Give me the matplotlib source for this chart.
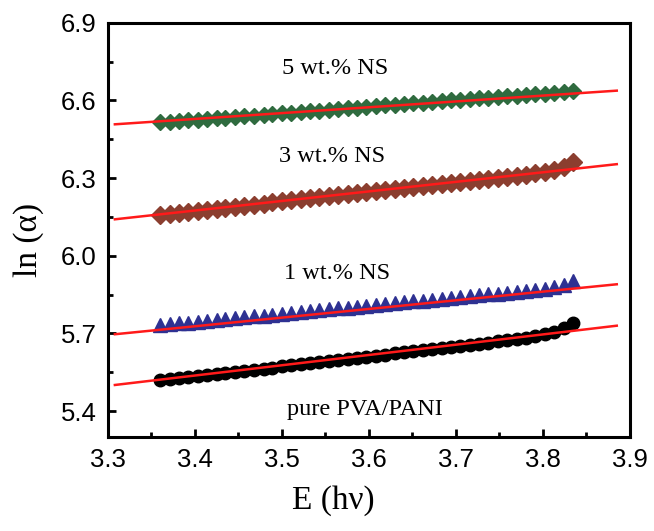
import matplotlib
matplotlib.use('Agg')
from matplotlib import pyplot as plt
from matplotlib.ticker import MultipleLocator

# photon energy (eV)
energy = [3.360, 3.371, 3.382, 3.392, 3.403, 3.414, 3.425, 3.435, 3.446, 3.457,
          3.468, 3.479, 3.489, 3.500, 3.511, 3.522, 3.532, 3.543, 3.554, 3.565,
          3.576, 3.586, 3.597, 3.608, 3.619, 3.630, 3.640, 3.651, 3.662, 3.673,
          3.684, 3.694, 3.705, 3.716, 3.727, 3.737, 3.748, 3.759, 3.770, 3.781,
          3.791, 3.802, 3.813, 3.824, 3.835]

ln_pure = [5.519, 5.523, 5.527, 5.531, 5.535, 5.540, 5.544, 5.548, 5.552, 5.556,
           5.560, 5.564, 5.568, 5.573, 5.577, 5.582, 5.586, 5.590, 5.594, 5.598,
           5.602, 5.606, 5.610, 5.614, 5.618, 5.623, 5.627, 5.631, 5.635, 5.639,
           5.643, 5.647, 5.651, 5.656, 5.660, 5.665, 5.669, 5.673, 5.678, 5.683,
           5.689, 5.697, 5.707, 5.720, 5.739]

ln_1ns = [5.732, 5.735, 5.739, 5.742, 5.746, 5.749, 5.752, 5.756, 5.759, 5.763,
          5.766, 5.769, 5.773, 5.776, 5.780, 5.783, 5.786, 5.790, 5.793, 5.797,
          5.800, 5.803, 5.807, 5.810, 5.814, 5.817, 5.820, 5.824, 5.827, 5.831,
          5.834, 5.837, 5.841, 5.844, 5.848, 5.851, 5.854, 5.858, 5.861, 5.865,
          5.868, 5.873, 5.879, 5.888, 5.904]

ln_3ns = [6.158, 6.162, 6.166, 6.170, 6.174, 6.178, 6.182, 6.186, 6.190, 6.194,
          6.198, 6.202, 6.206, 6.210, 6.214, 6.218, 6.222, 6.226, 6.230, 6.234,
          6.238, 6.242, 6.246, 6.250, 6.254, 6.258, 6.262, 6.266, 6.270, 6.274,
          6.278, 6.282, 6.286, 6.290, 6.294, 6.298, 6.302, 6.306, 6.310, 6.314,
          6.318, 6.323, 6.330, 6.342, 6.362]

ln_5ns = [6.515, 6.518, 6.520, 6.523, 6.526, 6.529, 6.531, 6.534, 6.537, 6.540,
          6.542, 6.545, 6.548, 6.550, 6.553, 6.556, 6.559, 6.561, 6.564, 6.567,
          6.570, 6.572, 6.575, 6.578, 6.581, 6.583, 6.586, 6.589, 6.591, 6.594,
          6.597, 6.600, 6.602, 6.605, 6.608, 6.611, 6.613, 6.616, 6.619, 6.621,
          6.624, 6.627, 6.630, 6.632, 6.635]

# linear fits: end points of each red line
fit_x = [3.308, 3.885]
fit_pure = [5.501, 5.730]
fit_1ns = [5.697, 5.890]
fit_3ns = [6.141, 6.354]
fit_5ns = [6.508, 6.638]

labels = ['pure PVA/PANI', '1 wt.% NS', '3 wt.% NS', '5 wt.% NS']
label_pos = [(3.595, 5.405), (3.564, 5.93), (3.558, 6.385), (3.561, 6.725)]

fig = plt.figure(figsize=(6.54, 5.31), dpi=100)
ax = fig.add_axes([0.165, 0.177, 0.798, 0.780])

ax.plot(energy, ln_pure, 'o', color='black', ms=9, mec='black')
ax.plot(energy, ln_1ns, '^', color='#2E3192', ms=10, mec='#2E3192')
ax.plot(energy, ln_3ns, 'D', color='#8B3E2F', ms=9, mec='#8B3E2F')
ax.plot(energy, ln_5ns, 'D', color='#2F6B3F', ms=8, mec='#2F6B3F')

for fit in [fit_pure, fit_1ns, fit_3ns, fit_5ns]:
    ax.plot(fit_x, fit, '-', color='#FF1A1A', lw=1.8)

for text, (tx, ty) in zip(labels, label_pos):
    ax.text(tx, ty, text, ha='center', va='center', fontsize=17.5,
            family='Liberation Serif')

ax.set_xlim(3.3, 3.9)
ax.set_ylim(5.3, 6.9)
ax.xaxis.set_major_locator(MultipleLocator(0.1))
ax.xaxis.set_minor_locator(MultipleLocator(0.05))
ax.yaxis.set_major_locator(MultipleLocator(0.3))
ax.yaxis.set_minor_locator(MultipleLocator(0.15))
ax.tick_params(which='both', direction='in', width=2, top=False, right=False,
               labelsize=18.5)
ax.tick_params(which='major', length=6, pad=8)
ax.tick_params(which='minor', length=3.5)
for lab in ax.get_xticklabels() + ax.get_yticklabels():
    lab.set_family('Liberation Sans')
for sp in ax.spines.values():
    sp.set_linewidth(2.2)

ax.set_xlabel('E (h\u03bd)', fontsize=24, family='Liberation Serif')
ax.set_ylabel('ln (\u03b1)', fontsize=24, family='Liberation Serif')
ax.xaxis.set_label_coords(0.431, -0.117)
ax.yaxis.set_label_coords(-0.122, 0.476)

fig.savefig('out.png', dpi=100)
